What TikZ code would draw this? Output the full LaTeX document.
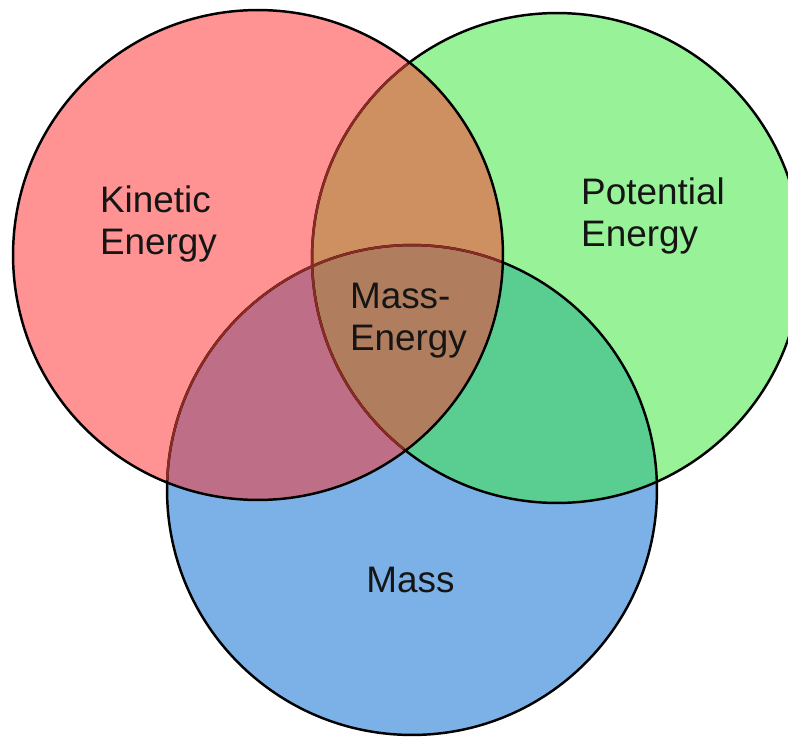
\documentclass[tikz,border=0pt]{standalone}
\usepackage{fontspec}
\setmainfont{Liberation Sans}
\definecolor{kinRed}{HTML}{FF9393}
\definecolor{potGreen}{HTML}{98F298}
\definecolor{massBlue}{HTML}{7BB1E6}
\definecolor{kinPot}{HTML}{CE9061}
\definecolor{kinMass}{HTML}{BE6E87}
\definecolor{potMass}{HTML}{5ACE90}
\definecolor{allThree}{HTML}{B07E5E}
\definecolor{arcRed}{HTML}{8A2A22}
\definecolor{textGrey}{HTML}{151515}

\begin{document}
\begin{tikzpicture}[x = 0.02cm, y = -0.02cm, font = \fontsize{21}{24}\selectfont]
	\tikzstyle{ringStyle}=[line width = 1.4pt, draw = black]
	\tikzstyle{innerStyle}=[line width = 1.4pt, draw = arcRed]
	\tikzstyle{labelStyle}=[align = left, inner sep = 0pt, text = textGrey]
	\useasboundingbox (0,0) rectangle (788,737);
	\coordinate (kin) at (258,255);
	\coordinate (pot) at (557,258);
	\coordinate (mas) at (412,490);
	
	\fill[kinRed] (kin) circle [radius = 4.9cm];
	\fill[potGreen] (pot) circle [radius = 4.9cm];
	\fill[massBlue] (mas) circle [radius = 4.9cm];
	\begin{scope}
		\clip (pot) circle [radius = 4.9cm];
		\fill[potMass] (mas) circle [radius = 4.9cm];
	\end{scope}
	\begin{scope}
		\clip (kin) circle [radius = 4.9cm];
		\fill[kinPot] (pot) circle [radius = 4.9cm];
		\fill[kinMass] (mas) circle [radius = 4.9cm];
		\clip (pot) circle [radius = 4.9cm];
		\fill[allThree] (mas) circle [radius = 4.9cm];
	\end{scope}
	
	\draw[ringStyle] (kin) circle [radius = 4.9cm];
	\draw[ringStyle] (pot) circle [radius = 4.9cm];
	\draw[ringStyle] (mas) circle [radius = 4.9cm];
	\begin{scope}
		\clip (kin) circle [radius = 4.86cm];
		\draw[innerStyle] (pot) circle [radius = 4.9cm];
		\draw[innerStyle] (mas) circle [radius = 4.9cm];
	\end{scope}
	
	\node[labelStyle] (kinetic) at (158.5,224) {Kinetic\\Energy};
	\node[labelStyle] (potential) at (653,216) {Potential\\Energy};
	\node[labelStyle] (massEnergy) at (408.5,321) {Mass-\\Energy};
	\node[labelStyle] (mass) at (410.5,580) {Mass};
\end{tikzpicture}
\end{document}
